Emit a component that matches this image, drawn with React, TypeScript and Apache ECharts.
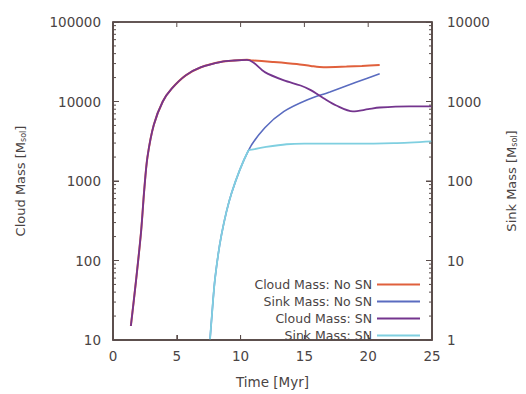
import React, { useEffect, useRef } from "react";
import * as echarts from "echarts";

const cloudSnT = [1.4, 1.8, 2.2, 2.45, 2.7, 3.2, 3.9, 4.6, 5.7, 6.9, 8.5, 9.5, 10.5, 11.0, 11.9, 13.4, 14.7, 15.5, 16.5, 17.5, 18.8, 20.0, 20.9, 23.2, 25];
const cloudSnV = [15, 55, 230, 780, 2000, 5100, 10000, 14500, 21300, 27000, 31600, 32800, 33400, 31000, 23400, 18400, 15900, 13900, 11000, 8900, 7500, 8000, 8400, 8700, 8700];

const cloudNoSnT = [1.4, 1.8, 2.2, 2.45, 2.7, 3.2, 3.9, 4.6, 5.7, 6.9, 8.5, 9.5, 10.5, 10.8, 12.5, 14.4, 15.5, 16.5, 18.3, 19.5, 20.9];
const cloudNoSnV = [15, 55, 230, 780, 2000, 5100, 10000, 14500, 21300, 27000, 31600, 32800, 33400, 33000, 31500, 29600, 28000, 27000, 27500, 28000, 28700];

const sinkNoSnT = [7.6, 7.74, 8.0, 8.5, 9.3, 10.6, 11.9, 13.4, 15.2, 17.0, 19.1, 20.9];
const sinkNoSnV = [1, 1.95, 6, 21, 71, 240, 468, 752, 1047, 1320, 1760, 2230];

const sinkSnT = [7.6, 7.74, 8.0, 8.5, 9.3, 10.6, 11.0, 12.0, 13.6, 15.0, 18.8, 22, 25];
const sinkSnV = [1, 1.95, 6, 21, 71, 240, 250, 268, 290, 295, 295, 300, 316];

const seriesNames = ["Cloud Mass: No SN", "Sink Mass: No SN", "Cloud Mass: SN", "Sink Mass: SN"];
const xTicks = [0, 5, 10, 15, 20, 25];
const leftTicks = [10, 100, 1000, 10000, 100000];
const minorMultipliers = [2, 3, 4, 5, 6, 7, 8, 9];

const pairs = (t: number[], v: number[]) => t.map((x, i) => [x, v[i]]);

const FONT = "DejaVu Sans";
const TXT = "#4a4444";
const FRAME = "#5a4d4b";

function renderFrame(_params: any, api: any) {
  const x0 = xTicks[0];
  const x1 = xTicks[xTicks.length - 1];
  const y0 = leftTicks[0];
  const y1 = leftTicks[leftTicks.length - 1];
  const bl = api.coord([x0, y0]);
  const tr = api.coord([x1, y1]);
  const L = bl[0], B = bl[1], R = tr[0], T = tr[1];
  const children: any[] = [];
  const ln = (a: number, b: number, c: number, d: number, w: number) =>
    children.push({ type: "line", shape: { x1: a, y1: b, x2: c, y2: d }, style: { stroke: FRAME, lineWidth: w, fill: null } });
  ln(L, T, R, T, 1.5);
  ln(L, B, R, B, 1.5);
  ln(L, T, L, B, 1.5);
  ln(R, T, R, B, 1.5);
  xTicks.slice(1, -1).forEach((t) => {
    const x = api.coord([t, y0])[0];
    ln(x, B, x, B - 5, 1);
    ln(x, T, x, T + 5, 1);
  });
  leftTicks.slice(1, -1).forEach((v) => {
    const y = api.coord([x0, v])[1];
    ln(L, y, L + 6, y, 1);
    ln(R, y, R - 6, y, 1);
  });
  leftTicks.slice(0, -1).forEach((v) => {
    minorMultipliers.forEach((m) => {
      const y = api.coord([x0, v * m])[1];
      ln(L, y, L + 3, y, 1);
      ln(R, y, R - 3, y, 1);
    });
  });
  return { type: "group", children };
}

export default function App() {
  const ref = useRef<HTMLDivElement>(null);
  useEffect(() => {
    if (!ref.current) return;
    const chart = echarts.init(ref.current, undefined, { renderer: "svg" });
    const axisLine = () => ({ show: true, onZero: false, lineStyle: { color: FRAME, width: 1.5 } });
    const tick = (len: number) => ({ show: true, inside: true, length: len, lineStyle: { color: FRAME, width: 1 } });
    const subRich = {
      sub: { fontSize: 8, fontFamily: FONT, color: TXT, verticalAlign: "bottom" as const, padding: [6, 0, 0, 0] },
    };
    const plain = (v: number) => String(Math.round(v));
    chart.setOption({
      animation: false,
      textStyle: { fontFamily: FONT },
      grid: { left: 113, right: 89, top: 22, bottom: 47, show: true, borderColor: FRAME, borderWidth: 1.5 },
      legend: {
        orient: "vertical",
        right: 106,
        top: 278,
        padding: 0,
        align: "right",
        icon: "rect",
        itemWidth: 43,
        itemHeight: 2,
        itemGap: 4,
        textStyle: { fontFamily: FONT, fontSize: 12.5, color: TXT },
        data: seriesNames,
      },
      xAxis: [
        {
          type: "value",
          min: xTicks[0],
          max: xTicks[xTicks.length - 1],
          interval: 5,
          name: "Time [Myr]",
          nameLocation: "middle",
          nameGap: 35,
          nameTextStyle: { fontFamily: FONT, fontSize: 13.5, color: TXT },
          axisLine: axisLine(),
          axisTick: tick(5),
          axisLabel: { fontFamily: FONT, fontSize: 13.5, color: TXT, margin: 9, formatter: plain },
          splitLine: { show: false },
        },
      ],
      yAxis: [
        {
          type: "log",
          logBase: 10,
          min: leftTicks[0],
          max: leftTicks[leftTicks.length - 1],
          name: "Cloud Mass [M{sub|sol}]",
          nameLocation: "middle",
          nameRotate: 90,
          nameGap: 86,
          nameTextStyle: { fontFamily: FONT, fontSize: 13, color: TXT, rich: subRich },
          axisLine: axisLine(),
          axisTick: tick(6),
          axisLabel: { fontFamily: FONT, fontSize: 13.5, color: TXT, margin: 12, formatter: plain },
          splitLine: { show: false },
        },
        {
          type: "log",
          logBase: 10,
          min: 1,
          max: 10000,
          position: "right",
          name: "Sink Mass [M{sub|sol}]",
          nameLocation: "middle",
          nameRotate: 90,
          nameGap: 72,
          nameTextStyle: { fontFamily: FONT, fontSize: 13, color: TXT, rich: subRich },
          axisLine: axisLine(),
          axisTick: tick(6),
          axisLabel: { fontFamily: FONT, fontSize: 13.5, color: TXT, margin: 15, formatter: plain },
          splitLine: { show: false },
        },
      ],
      series: [
        {
          name: seriesNames[0],
          type: "line",
          xAxisIndex: 0,
          yAxisIndex: 0,
          showSymbol: false,
          smooth: 0.3,
          color: "#e0603c",
          lineStyle: { width: 2 },
          data: pairs(cloudNoSnT, cloudNoSnV),
        },
        {
          name: seriesNames[1],
          type: "line",
          xAxisIndex: 0,
          yAxisIndex: 1,
          showSymbol: false,
          smooth: 0.3,
          color: "#5a6cc0",
          lineStyle: { width: 1.6 },
          data: pairs(sinkNoSnT, sinkNoSnV),
        },
        {
          name: seriesNames[2],
          type: "line",
          xAxisIndex: 0,
          yAxisIndex: 0,
          showSymbol: false,
          smooth: 0.3,
          color: "#74358e",
          lineStyle: { width: 1.8 },
          data: pairs(cloudSnT, cloudSnV),
        },
        {
          name: seriesNames[3],
          type: "line",
          xAxisIndex: 0,
          yAxisIndex: 1,
          showSymbol: false,
          smooth: 0.3,
          color: "#7fcfe0",
          lineStyle: { width: 1.8 },
          data: pairs(sinkSnT, sinkSnV),
        },
        {
          type: "custom",
          xAxisIndex: 0,
          yAxisIndex: 0,
          silent: true,
          clip: false,
          z: 5,
          renderItem: renderFrame,
          data: [[xTicks[0], leftTicks[0]]],
        },
      ],
    });
    return () => chart.dispose();
  }, []);
  return <div ref={ref} style={{ width: 526, height: 394, position: "absolute", left: 0, top: 0 }} />;
}
